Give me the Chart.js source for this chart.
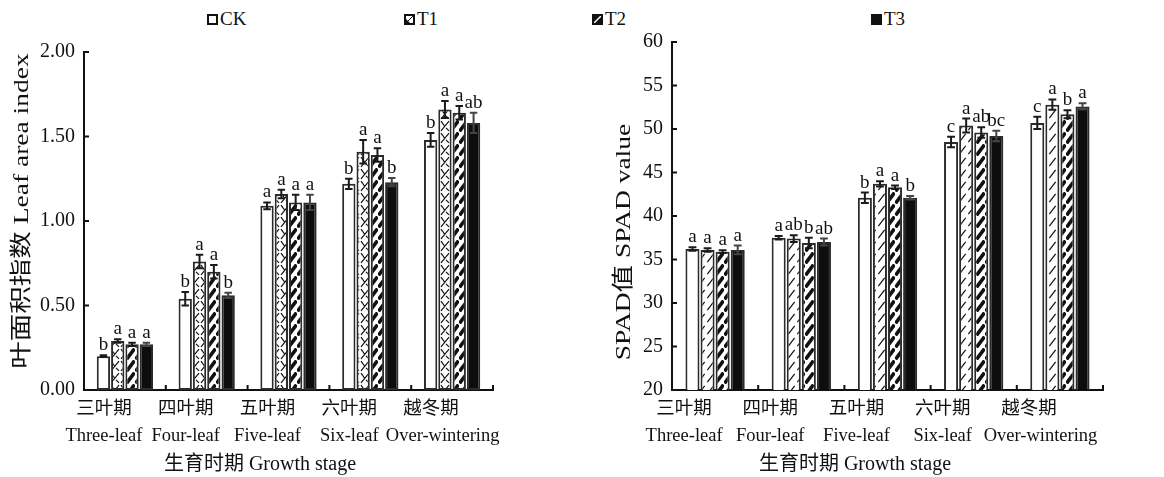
<!DOCTYPE html>
<html>
<head>
<meta charset="utf-8">
<script src="https://cdn.jsdelivr.net/npm/chart.js@4.4.0/dist/chart.umd.min.js"></script>
<style>
  body { margin: 0; background: #fff; width: 1164px; height: 477px; overflow: hidden; position: relative; }
  .caixa { position: absolute; top: 0; height: 477px; }
  .leg { position: absolute; top: 8px; font: 19px 'Liberation Serif', serif; color: #111; line-height: 22px; }
  .leg canvas { position: absolute; left: 0; top: 6px; }
  .leg span { position: absolute; white-space: nowrap; }
</style>
</head>
<body>
<div id="legenda"></div>
<div class="caixa" style="left:0;width:560px"><canvas id="grafico-lai"></canvas></div>
<div class="caixa" style="left:580px;width:584px"><canvas id="grafico-spad"></canvas></div>
<script>
// --- Dados ---
// (espaços à frente de Over-wintering empurram o rótulo para a direita, como no original)
const estagios = [
  ['三叶期', 'Three-leaf'],
  ['四叶期', 'Four-leaf'],
  ['五叶期', 'Five-leaf'],
  ['六叶期', 'Six-leaf'],
  ['越冬期', '     Over-wintering']
];
const tratamentos = ['CK', 'T1', 'T2', 'T3'];

// Leaf area index
const laiCK = [0.20, 0.54, 1.09, 1.22, 1.48];
const laiT1 = [0.29, 0.76, 1.16, 1.41, 1.66];
const laiT2 = [0.27, 0.70, 1.11, 1.39, 1.64];
const laiT3 = [0.27, 0.56, 1.11, 1.23, 1.58];
const erroLaiCK = [0.005, 0.04, 0.02, 0.03, 0.04];
const erroLaiT1 = [0.01, 0.04, 0.025, 0.07, 0.05];
const erroLaiT2 = [0.01, 0.04, 0.045, 0.04, 0.04];
const erroLaiT3 = [0.01, 0.015, 0.045, 0.025, 0.06];
const letrasLaiCK = ['b', 'b', 'a', 'b', 'b'];
const letrasLaiT1 = ['a', 'a', 'a', 'a', 'a'];
const letrasLaiT2 = ['a', 'a', 'a', 'a', 'a'];
const letrasLaiT3 = ['a', 'b', 'a', 'b', 'ab'];
const ticksLai = [0, 0.5, 1.0, 1.5, 2.0];

// SPAD
const spadCK = [36.2, 37.5, 42.1, 48.5, 50.7];
const spadT1 = [36.1, 37.4, 43.7, 50.4, 52.8];
const spadT2 = [35.9, 36.9, 43.3, 49.6, 51.7];
const spadT3 = [36.1, 37.0, 42.1, 49.2, 52.6];
const erroSpadCK = [0.2, 0.2, 0.6, 0.6, 0.7];
const erroSpadT1 = [0.2, 0.4, 0.3, 0.8, 0.6];
const erroSpadT2 = [0.15, 0.6, 0.2, 0.6, 0.45];
const erroSpadT3 = [0.5, 0.4, 0.2, 0.6, 0.35];
const letrasSpadCK = ['a', 'a', 'b', 'c', 'c'];
const letrasSpadT1 = ['a', 'ab', 'a', 'a', 'a'];
const letrasSpadT2 = ['a', 'b', 'a', 'ab', 'b'];
const letrasSpadT3 = ['a', 'ab', 'b', 'bc', 'a'];
const ticksSpad = [20, 25, 30, 35, 40, 45, 50, 55, 60];

const fonte = "'Liberation Serif', 'Noto Sans CJK SC', serif";
Chart.defaults.font.family = fonte;
Chart.defaults.color = '#111';

// --- Padrões de preenchimento ---
function padrao(tipo) {
  const c = document.createElement('canvas');
  const w = tipo === 'cruz' ? 10 : 9, h = 12;
  c.width = w; c.height = h;
  const g = c.getContext('2d');
  g.fillStyle = '#fff';
  g.fillRect(0, 0, w, h);
  g.strokeStyle = '#111';
  g.lineCap = 'butt';
  g.beginPath();
  if (tipo === 'grosso') {
    g.lineWidth = 3.6;
    g.moveTo(w * 0.05, h * 0.95); g.lineTo(w * 0.95, h * 0.05);
  } else if (tipo === 'fino') {
    g.lineWidth = 1.2;
    g.moveTo(w * 0.15, h * 0.85); g.lineTo(w * 0.85, h * 0.15);
  } else if (tipo === 'cruz') {
    g.lineWidth = 1.2;
    g.moveTo(w * 0.1, h * 0.9); g.lineTo(w * 0.9, h * 0.1);
    g.moveTo(w * 0.1, h * 0.1); g.lineTo(w * 0.45, h * 0.5);
    g.moveTo(w * 0.6, h * 0.65); g.lineTo(w * 0.9, h * 0.9);
  }
  g.stroke();
  return g.createPattern(c, 'repeat');
}

// --- Plugin: barras de erro, letras, marcas internas e títulos ---
const extras = {
  id: 'extras',
  afterDatasetsDraw(chart, args, opts) {
    const ctx = chart.ctx;
    const y = chart.scales.y;
    ctx.save();
    chart.data.datasets.forEach((ds, i) => {
      const meta = chart.getDatasetMeta(i);
      meta.data.forEach((bar, j) => {
        const v = ds.data[j], e = ds.erro[j];
        const yTopo = y.getPixelForValue(v + e);
        const yBase = y.getPixelForValue(v - e);
        const meia = bar.width * 0.28;
        ctx.strokeStyle = i === 3 ? '#444' : '#1a1a1a';
        ctx.lineWidth = 2;
        ctx.beginPath();
        ctx.moveTo(bar.x, yTopo); ctx.lineTo(bar.x, yBase);
        ctx.moveTo(bar.x - meia, yTopo); ctx.lineTo(bar.x + meia, yTopo);
        ctx.moveTo(bar.x - meia, yBase); ctx.lineTo(bar.x + meia, yBase);
        ctx.stroke();
        ctx.fillStyle = '#111';
        ctx.font = '19px ' + fonte;
        ctx.textAlign = 'center';
        ctx.textBaseline = 'alphabetic';
        ctx.fillText(ds.letras[j], bar.x, yTopo - 5);
      });
    });
    ctx.restore();
  },
  afterDraw(chart, args, opts) {
    const ctx = chart.ctx;
    const x = chart.scales.x, y = chart.scales.y;
    const area = chart.chartArea;
    ctx.save();
    ctx.strokeStyle = '#111';
    ctx.lineWidth = 2;
    ctx.beginPath();
    y.ticks.forEach(t => {
      const py = y.getPixelForValue(t.value);
      ctx.moveTo(area.left, py); ctx.lineTo(area.left + 5, py);
    });
    for (let k = 0; k < estagios.length; k++) {
      const px = x.getPixelForValue(k + 0.5);
      ctx.moveTo(px, area.bottom); ctx.lineTo(px, area.bottom - 5);
    }
    ctx.stroke();
    ctx.fillStyle = '#111';
    ctx.textAlign = 'center';
    ctx.textBaseline = 'middle';
    // título do eixo y (esticado no sentido do texto)
    ctx.save();
    ctx.translate(opts.tituloY.x, opts.tituloY.y);
    ctx.rotate(-Math.PI / 2);
    ctx.scale(1.25, 1);
    ctx.font = '22px ' + fonte;
    ctx.fillText(opts.tituloY.texto, 0, 0);
    ctx.restore();
    // título do eixo x
    ctx.font = '20px ' + fonte;
    ctx.fillText(opts.tituloX.texto, opts.tituloX.x, opts.tituloX.y);
    ctx.restore();
  }
};

function montarDatasets(valores, erros, letras, padraoT1) {
  const fundos = ['#ffffff', padrao(padraoT1), padrao('grosso'), '#0d0d0d'];
  return tratamentos.map((t, i) => ({
    label: t,
    data: valores[i],
    erro: erros[i],
    letras: letras[i],
    backgroundColor: fundos[i],
    borderColor: '#2b2b2b',
    borderWidth: 2,
    borderSkipped: false,
    categoryPercentage: 0.7,
    barPercentage: 0.93
  }));
}

function criarGrafico(id, datasets, cfg) {
  return new Chart(document.getElementById(id), {
    type: 'bar',
    data: { labels: estagios, datasets: datasets },
    options: {
      responsive: true,
      maintainAspectRatio: false,
      animation: false,
      layout: { padding: { left: 0, top: cfg.topo, right: cfg.direita, bottom: 0 } },
      plugins: {
        legend: { display: false },
        tooltip: { enabled: false },
        extras: { tituloY: cfg.tituloY, tituloX: cfg.tituloX }
      },
      scales: {
        x: {
          grid: { display: false, drawTicks: false },
          border: { display: true, color: '#111', width: 2 },
          ticks: {
            padding: 5,
            labelOffset: cfg.deslocamento,
            maxRotation: 0,
            autoSkip: false,
            color: '#111',
            font: { size: 18.5, lineHeight: 1.5 }
          },
          afterFit: s => { s.height = 87; }
        },
        y: {
          min: cfg.min,
          max: cfg.max,
          grid: { display: false, drawTicks: false },
          border: { display: true, color: '#111', width: 2 },
          afterBuildTicks: s => { s.ticks = cfg.ticks.map(v => ({ value: v })); },
          ticks: {
            padding: 9,
            color: '#111',
            font: { size: 20 },
            callback: cfg.formato
          },
          afterFit: s => { s.width = cfg.largura; }
        }
      }
    },
    plugins: [extras]
  });
}

criarGrafico('grafico-lai',
  montarDatasets([laiCK, laiT1, laiT2, laiT3],
                 [erroLaiCK, erroLaiT1, erroLaiT2, erroLaiT3],
                 [letrasLaiCK, letrasLaiT1, letrasLaiT2, letrasLaiT3], 'cruz'),
  {
    topo: 52, direita: 67, largura: 84, min: 0, max: 2, ticks: ticksLai,
    formato: v => Number(v).toFixed(2), deslocamento: -21,
    tituloY: { texto: '叶面积指数 Leaf area index', x: 22, y: 211 },
    tituloX: { texto: '生育时期 Growth stage', x: 260, y: 465 }
  });

criarGrafico('grafico-spad',
  montarDatasets([spadCK, spadT1, spadT2, spadT3],
                 [erroSpadCK, erroSpadT1, erroSpadT2, erroSpadT3],
                 [letrasSpadCK, letrasSpadT1, letrasSpadT2, letrasSpadT3], 'fino'),
  {
    topo: 42, direita: 61, largura: 92, min: 20, max: 60, ticks: ticksSpad,
    formato: v => v, deslocamento: -31,
    tituloY: { texto: 'SPAD值 SPAD value', x: 44, y: 242 },
    tituloX: { texto: '生育时期 Growth stage', x: 275, y: 465 }
  });

// --- Legenda ---
const posLegenda = [207, 404, 592, 871];
function iconeLegenda(i) {
  const c = document.createElement('canvas');
  c.width = 11; c.height = 11;
  const g = c.getContext('2d');
  g.fillStyle = i === 3 ? '#111' : '#fff';
  g.fillRect(0, 0, 11, 11);
  g.strokeStyle = '#111';
  g.fillStyle = '#111';
  if (i === 1) {
    g.beginPath(); g.moveTo(2, 9); g.lineTo(2, 5); g.lineTo(6, 9); g.closePath(); g.fill();
    g.lineWidth = 1; g.beginPath(); g.moveTo(3, 8); g.lineTo(9, 2); g.stroke();
  } else if (i === 2) {
    g.fillRect(1, 1, 9, 9);
    g.strokeStyle = '#fff'; g.lineWidth = 1.5;
    g.beginPath(); g.moveTo(2, 9); g.lineTo(9, 2); g.stroke();
    g.strokeStyle = '#111';
  }
  g.lineWidth = 2;
  g.strokeRect(1, 1, 9, 9);
  return c;
}
const legenda = document.getElementById('legenda');
tratamentos.forEach((t, i) => {
  const item = document.createElement('div');
  item.className = 'leg';
  item.style.left = posLegenda[i] + 'px';
  item.appendChild(iconeLegenda(i));
  const texto = document.createElement('span');
  texto.style.left = '13px';
  texto.innerText = t;
  item.appendChild(texto);
  legenda.appendChild(item);
});
</script>
</body>
</html>
